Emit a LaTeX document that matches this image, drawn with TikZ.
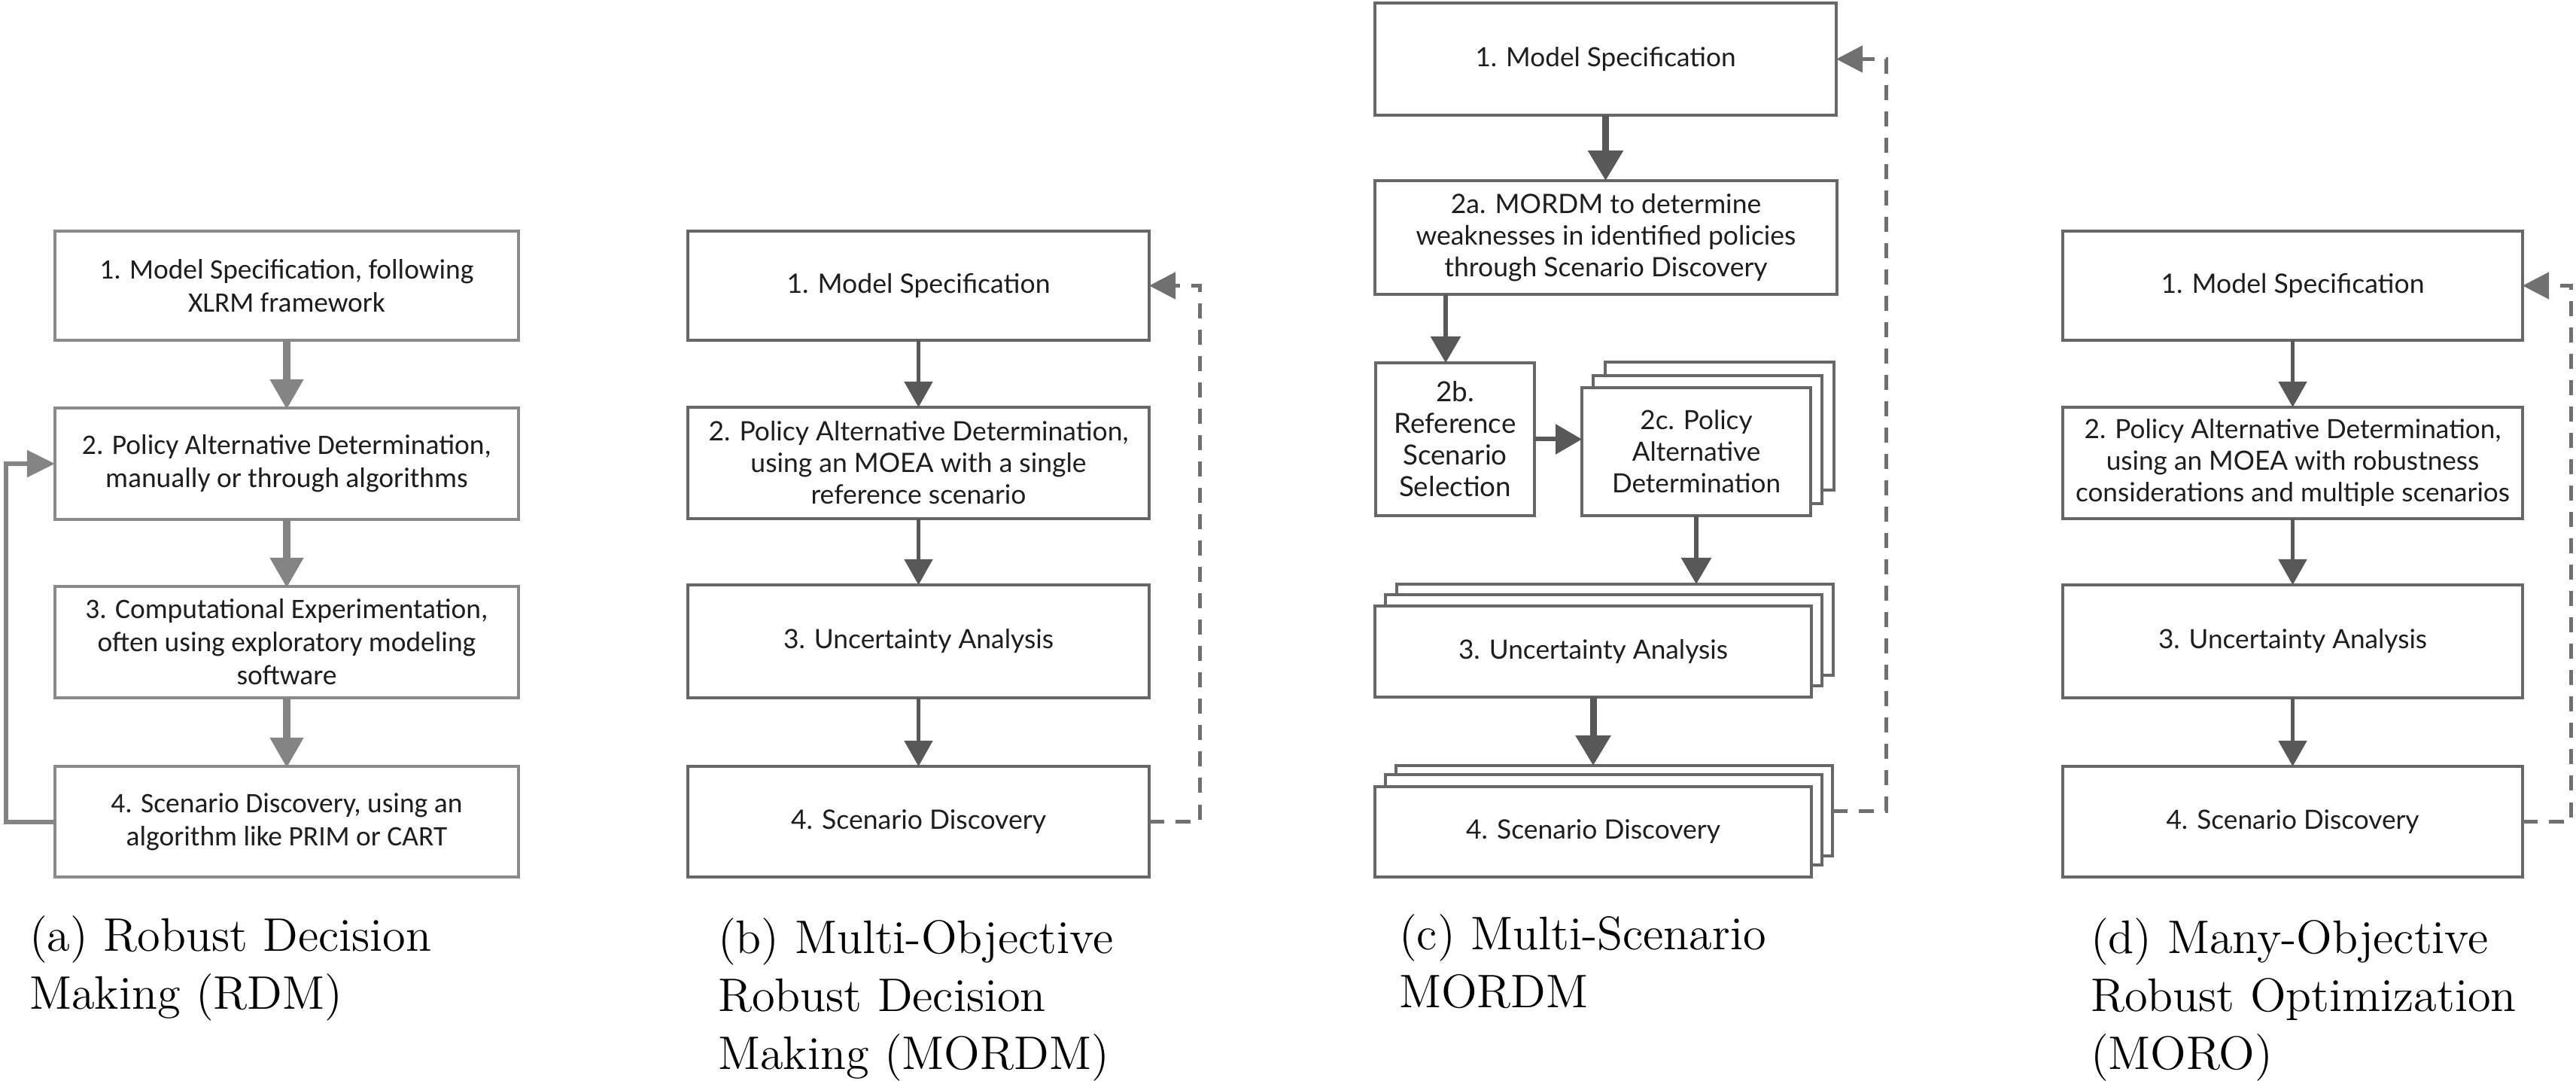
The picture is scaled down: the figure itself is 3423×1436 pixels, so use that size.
\documentclass[tikz,border=0pt]{standalone}
\usepackage{fontspec}
\newfontfamily\calfont{Carlito}
\newfontfamily\latofont{Lato}
\usetikzlibrary{arrows.meta}
\definecolor{abord}{HTML}{8A8A8A}
\definecolor{aarrow}{HTML}{848484}
\definecolor{bbord}{HTML}{676767}
\definecolor{barrow}{HTML}{585858}
\definecolor{dashcol}{HTML}{707070}
\definecolor{txt}{HTML}{1E1E1E}
% font sized so that the given line gets the given width (in picture pixels, 1px = 0.2pt)
\newlength\fitw
\newcommand\latofit[2]{\settowidth\fitw{\latofont\fontsize{10pt}{12pt}\selectfont #2}%
  \pgfmathsetmacro\fitsz{2*#1/\fitw}\latofont\fontsize{\fitsz pt}{8.4pt}\selectfont}
\newcommand\calfit[2]{\settowidth\fitw{\calfont\fontsize{10pt}{12pt}\selectfont #2}%
  \pgfmathsetmacro\fitsz{2*#1/\fitw}\calfont\fontsize{\fitsz pt}{8.8pt}\selectfont}
\begin{document}
\begin{tikzpicture}[x=0.2pt,y=-0.2pt,
  abox/.style={draw=abord, line width=0.8pt, fill=white, inner sep=0pt, outer sep=0pt, align=center, text=txt,
    font=\calfont\fontsize{7.5pt}{8.8pt}\selectfont},
  lbox/.style={draw=bbord, line width=0.8pt, fill=white, inner sep=0pt, outer sep=0pt, align=center, text=txt,
    font=\latofont\fontsize{7.5pt}{8.4pt}\selectfont},
  aarr/.style={draw=aarrow, line width=2pt, -{Triangle[length=8pt,width=8.4pt]}, shorten >=-0.4pt},
  aback/.style={draw=aarrow, line width=1.2pt, -{Triangle[length=7.4pt,width=7pt]}},
  barr/.style={draw=barrow, line width=1pt, -{Triangle[length=6.8pt,width=7.4pt]}},
  cthin/.style={draw=barrow, line width=1.2pt, -{Triangle[length=7pt,width=7.8pt]}},
  cthick/.style={draw=barrow, line width=1.8pt, -{Triangle[length=8pt,width=9pt]}},
  dashline/.style={draw=dashcol, line width=1pt, dash pattern=on 4pt off 3pt, -{Triangle[length=7pt,width=7pt]}},
  captext/.style={anchor=base west, align=left, inner sep=0pt, text=black, font=\fontsize{12.5pt}{15.4pt}\selectfont}
]
\useasboundingbox (0,0) rectangle (3423,1436);
\fill[white] (0,0) rectangle (3423,1436);

% ---------------- (a) RDM ----------------
\node[abox, minimum width=123.2pt, minimum height=29pt, font={\calfit{497}{1. Model Specification, following}}]
  (a1) at (381,379.5) {1. Model Specification, following\\XLRM framework};
\node[abox, minimum width=123.2pt, minimum height=29.6pt, font={\calfit{544}{2. Policy Alternative Determination,}}]
  (a2) at (381,616) {2. Policy Alternative Determination,\\manually or through algorithms};
\node[abox, minimum width=123.2pt, minimum height=29.6pt, font={\calfit{535}{3. Computational Experimentation,}}]
  (a3) at (381,853) {3. Computational Experimentation,\\often using exploratory modeling\\software};
\node[abox, minimum width=123.2pt, minimum height=29.4pt, font={\calfit{467}{4. Scenario Discovery, using an}}]
  (a4) at (381,1091.5) {4. Scenario Discovery, using an\\algorithm like PRIM or CART};
\draw[aarr] (a1.south) -- (a2.north);
\draw[aarr] (a2.south) -- (a3.north);
\draw[aarr] (a3.south) -- (a4.north);
\draw[aback] (a4.west) -- ++(-65,0) |- (a2.west);

% ---------------- (b) MORDM ----------------
\node[lbox, minimum width=122.6pt, minimum height=29pt, font={\latofit{350}{1. Model Specification}}]
  (b1) at (1220.5,379.5) {1. Model Specification};
\node[lbox, minimum width=122.6pt, minimum height=29.6pt, font={\latofit{558}{2. Policy Alternative Determination,}}]
  (b2) at (1220.5,615) {2. Policy Alternative Determination,\\using an MOEA with a single\\reference scenario};
\node[lbox, minimum width=122.6pt, minimum height=30pt, font={\latofit{359}{3. Uncertainty Analysis}}]
  (b3) at (1220.5,852) {3. Uncertainty Analysis};
\node[lbox, minimum width=122.6pt, minimum height=29.4pt, font={\latofit{339}{4. Scenario Discovery}}]
  (b4) at (1220.5,1091.5) {4. Scenario Discovery};
\draw[barr] (b1.south) -- (b2.north);
\draw[barr] (b2.south) -- (b3.north);
\draw[barr] (b3.south) -- (b4.north);
\draw[dashline] (b4.east) -- ++(67,0) |- (b1.east);

% ---------------- (c) Multi-Scenario MORDM ----------------
\node[lbox, minimum width=122.6pt, minimum height=29.8pt, font={\latofit{346}{1. Model Specification}}]
  (c1) at (2133.5,78.5) {1. Model Specification};
\node[lbox, minimum width=122.8pt, minimum height=30.2pt, font={\latofit{505}{weaknesses in identified policies}}]
  (c2a) at (2134,315.5) {2a. MORDM to determine\\weaknesses in identified policies\\through Scenario Discovery};
\node[lbox, minimum width=42.2pt, minimum height=40.6pt, font={\latofit{162}{Reference}}]
  (c2b) at (1933.5,583.5) {2b.\\Reference\\Scenario\\Selection};
\node[lbox, minimum width=60.8pt, minimum height=34pt] (c2cC) at (2285,566) {};
\node[lbox, minimum width=60.8pt, minimum height=34pt] (c2cB) at (2269,584) {};
\node[lbox, minimum width=60.8pt, minimum height=34pt, font={\latofit{224}{Determination}}]
  (c2c) at (2254,600) {2c. Policy\\Alternative\\Determination};
\node[lbox, minimum width=116pt, minimum height=24.2pt] (c3C) at (2146,836.5) {};
\node[lbox, minimum width=116pt, minimum height=24.2pt] (c3B) at (2131,850.5) {};
\node[lbox, minimum width=116pt, minimum height=24.2pt, font={\latofit{358}{3. Uncertainty Analysis}}]
  (c3) at (2117,865.5) {3. Uncertainty Analysis};
\node[lbox, minimum width=116pt, minimum height=24pt] (c4C) at (2145,1077) {};
\node[lbox, minimum width=116pt, minimum height=24pt] (c4B) at (2131,1089) {};
\node[lbox, minimum width=116pt, minimum height=24pt, font={\latofit{338}{4. Scenario Discovery}}]
  (c4) at (2117,1105) {4. Scenario Discovery};
\coordinate (t2b) at (1921,482);
\draw[cthick] (c1.south) -- (c1.south |- c2a.north);
\draw[cthin] (c2a.south -| t2b) -- (t2b);
\draw[cthin] (c2b.east) -- (c2b.east -| c2c.west);
\draw[cthin] (c2c.south) -- (c2c.south |- c3C.north);
\draw[cthick] (c3.south) -- (c3.south |- c4C.north);
\draw[dashline] (c4C.east) -- ++(71,0) |- (c1.east);

% ---------------- (d) MORO ----------------
\node[lbox, minimum width=122.2pt, minimum height=29pt, font={\latofit{350}{1. Model Specification}}]
  (d1) at (3046.5,379.5) {1. Model Specification};
\node[lbox, minimum width=122.2pt, minimum height=29.6pt, font={\latofit{577}{considerations and multiple scenarios}}]
  (d2) at (3046.5,615) {2. Policy Alternative Determination,\\using an MOEA with robustness\\considerations and multiple scenarios};
\node[lbox, minimum width=122.2pt, minimum height=30pt, font={\latofit{357}{3. Uncertainty Analysis}}]
  (d3) at (3046.5,852) {3. Uncertainty Analysis};
\node[lbox, minimum width=122.2pt, minimum height=29.4pt, font={\latofit{336}{4. Scenario Discovery}}]
  (d4) at (3046.5,1091.5) {4. Scenario Discovery};
\draw[barr] (d1.south) -- (d2.north);
\draw[barr] (d2.south) -- (d3.north);
\draw[barr] (d3.south) -- (d4.north);
\draw[dashline] (d4.east) -- ++(64,0) |- (d1.east);

% ---------------- captions (anchored at the baseline of the last line) ----------------
\node[captext] (capa) at (38,1340) {(a) Robust Decision\\Making (RDM)};
\node[captext] (capb) at (953,1420) {(b) Multi-Objective\\Robust Decision\\Making (MORDM)};
\node[captext] (capc) at (1858,1338) {(c) Multi-Scenario\\MORDM};
\node[captext] (capd) at (2777,1420) {(d) Many-Objective\\Robust Optimization\\(MORO)};
\end{tikzpicture}
\end{document}
